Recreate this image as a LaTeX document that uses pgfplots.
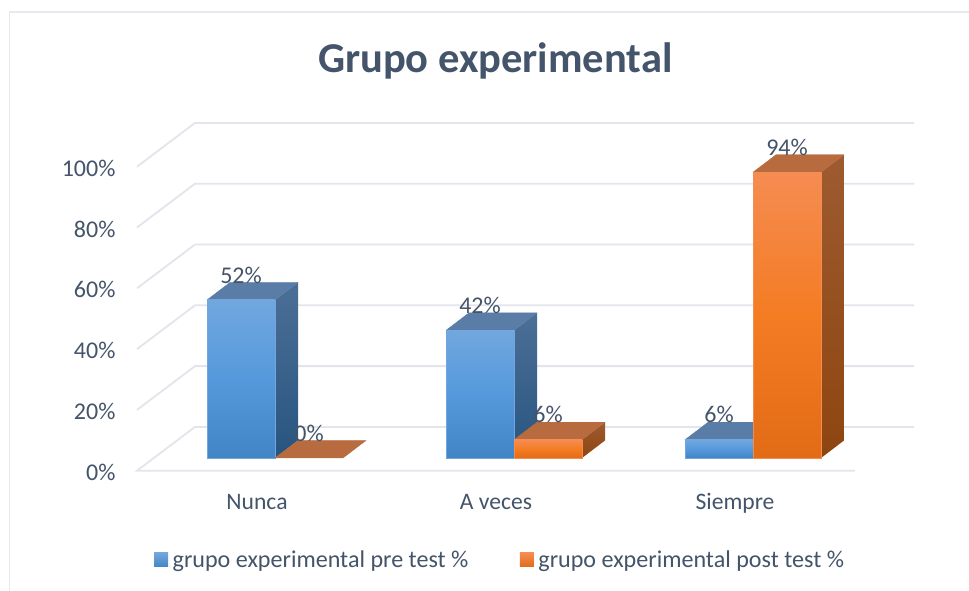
\documentclass[border=0pt]{standalone}
\usepackage{pgfplots}
\pgfplotsset{compat=1.18}
\usepackage{fontspec}
\setmainfont{Carlito}
\definecolor{txt}{HTML}{44546A}
\definecolor{gridc}{HTML}{E2E5EB}
\definecolor{frame}{HTML}{E6EAEF}
\definecolor{preT}{HTML}{71A7DE}
\definecolor{preM}{HTML}{5599DC}
\definecolor{preB}{HTML}{4285C5}
\definecolor{postT}{HTML}{F58C52}
\definecolor{postM}{HTML}{F47C23}
\definecolor{postB}{HTML}{E26B16}
\definecolor{preTop}{HTML}{5A7DA8}
\definecolor{preST}{HTML}{4C6F97}
\definecolor{preSB}{HTML}{27557F}
\definecolor{postTop}{HTML}{B76B3F}
\definecolor{postST}{HTML}{9D5B30}
\definecolor{postSB}{HTML}{8E4510}
\pgfplotsset{
  preface/.style={ybar, bar width=68, bar shift=0pt, draw=preT, line width=0.3pt, top color=preT, bottom color=preB, middle color=preM},
  postface/.style={ybar, bar width=68, bar shift=0pt, draw=postT, line width=0.3pt, top color=postT, bottom color=postB, middle color=postM},
  pretop/.style={fill=preTop, draw=preTop, line width=0.3pt},
  preside/.style={top color=preST, bottom color=preSB, draw=none},
  posttop/.style={fill=postTop, draw=postTop, line width=0.3pt},
  postside/.style={top color=postST, bottom color=postSB, draw=none},
  lab/.style={only marks, mark=none, point meta=y,
    nodes near coords={\pgfmathprintnumber[assume math mode=true]{\pgfplotspointmeta}\%},
    every node near coord/.style={anchor=center, yshift=25pt, text=txt, font=\fontsize{24}{26}\selectfont}},
  gl/.style={draw=gridc, line width=1.8pt, line join=miter},
}
\begin{document}
\begin{tikzpicture}[x=1pt,y=1pt]
\useasboundingbox (0,0) rectangle (969,591);
\fill[white] (0,0) rectangle (969,591);
\draw[frame, line width=1.6pt] (9.5,0) -- (9.5,579) -- (969,579);
% walls and grid
\begin{axis}[name=wall, at={(137pt,120.3pt)}, anchor=south west, scale only axis, width=778pt, height=304pt,
  xmin=137, xmax=915, ymin=0, ymax=100, clip=false,
  axis line style={draw=none}, major tick length=0pt,
  xtick=\empty, ytick={0,20,40,60,80,100},
  yticklabel={\pgfmathprintnumber[assume math mode=true]{\tick}\%},
  yticklabel style={text=txt, font=\fontsize{24}{26}\selectfont, anchor=east, xshift=-18pt, yshift=-1.5pt},
]
\addplot[gl] coordinates {(855,0)(137,0)(195,14.4)(914,14.4)};
\addplot[gl] coordinates {(137,20)(195,34.4)(914,34.4)};
\addplot[gl] coordinates {(137,40)(195,54.4)(914,54.4)};
\addplot[gl] coordinates {(137,60)(195,74.4)(914,74.4)};
\addplot[gl] coordinates {(137,80)(195,94.4)(914,94.4)};
\addplot[gl] coordinates {(137,100)(195,114.4)(914,114.4)};
\end{axis}
% bars
\begin{axis}[at={(137pt,133pt)}, anchor=south west, scale only axis, width=778pt, height=304pt,
  xmin=137, xmax=915, ymin=0, ymax=100, clip=false,
  axis line style={draw=none}, major tick length=0pt,
  ytick=\empty, xtick={257,496,735}, xticklabels={Nunca,A veces,Siempre},
  xticklabel style={text=txt, font=\fontsize{23.6}{26}\selectfont, anchor=base, yshift=-52pt},
  title={Grupo experimental},
  title style={at={(rel axis cs:0.4606,1.286)}, anchor=center, text=txt, font=\fontsize{42.5}{45}\selectfont\bfseries},
  legend columns=2,
  legend style={at={(rel axis cs:0.0218,-0.3355)}, anchor=west, draw=none, fill=none, inner sep=0pt, font=\fontsize{24.1}{26}\selectfont, text=txt,
    /tikz/every even column/.append style={column sep=49.5pt}},
  legend cell align=left,
]
\addlegendimage{legend image code/.code={\path[draw=none] (0pt,0pt) -- (16.5pt,0pt); \shade[draw=none,top color=preT,bottom color=preB] (0pt,-7pt) rectangle (14pt,7pt);}}
\addlegendentry{grupo experimental pre test \%}
\addlegendimage{legend image code/.code={\path[draw=none] (0pt,0pt) -- (16.5pt,0pt); \shade[draw=none,top color=postT,bottom color=postB] (0pt,-7pt) rectangle (14pt,7pt);}}
\addlegendentry{grupo experimental post test \%}
% value labels lie behind the bars
\addplot[lab, forget plot] coordinates {(241,52)(480,42)(719,6)};
\addplot[lab, forget plot] coordinates {(309,0)(548,6)(787,94)};
% pre test
\addplot[preside, forget plot] coordinates {(275,0)(298,5.76)(298,57.76)(275,52)} --cycle;
\addplot[pretop, forget plot] coordinates {(207,52)(230,57.76)(298,57.76)(275,52)} --cycle;
\addplot[preside, forget plot] coordinates {(514,0)(537,5.76)(537,47.76)(514,42)} --cycle;
\addplot[pretop, forget plot] coordinates {(446,42)(469,47.76)(537,47.76)(514,42)} --cycle;
\addplot[pretop, forget plot] coordinates {(685,6)(708,11.76)(776,11.76)(753,6)} --cycle;
\addplot[preface, forget plot] coordinates {(241,52)};
\addplot[preface, forget plot] coordinates {(480,42)};
\addplot[preface, forget plot] coordinates {(719,6)};
% post test
\addplot[posttop, forget plot] coordinates {(275,0)(298,5.76)(366,5.76)(343,0)} --cycle;
\addplot[postside, forget plot] coordinates {(582,0)(605,5.76)(605,11.76)(582,6)} --cycle;
\addplot[posttop, forget plot] coordinates {(514,6)(537,11.76)(605,11.76)(582,6)} --cycle;
\addplot[postside, forget plot] coordinates {(821,0)(844,5.76)(844,99.76)(821,94)} --cycle;
\addplot[posttop, forget plot] coordinates {(753,94)(776,99.76)(844,99.76)(821,94)} --cycle;
\addplot[postface, forget plot] coordinates {(548,6)};
\addplot[postface, forget plot] coordinates {(787,94)};
\end{axis}
\end{tikzpicture}
\end{document}
